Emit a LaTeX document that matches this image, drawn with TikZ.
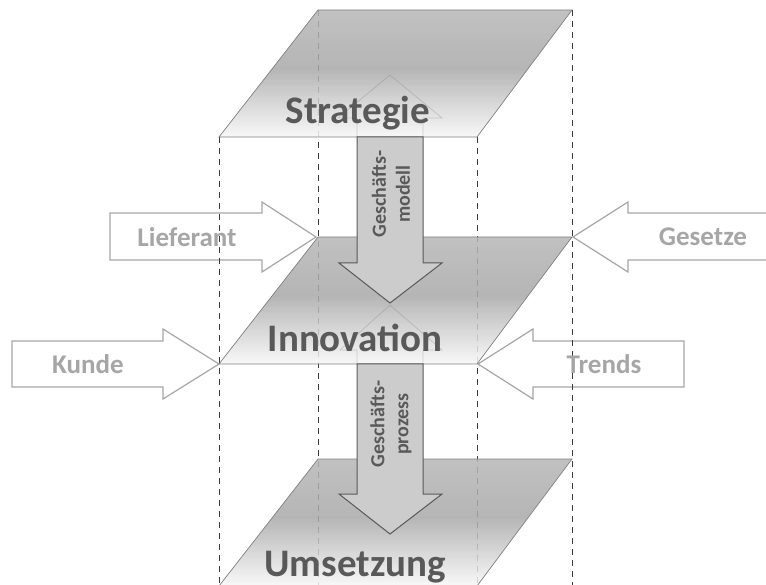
\documentclass[tikz,border=0pt]{standalone}
\usepackage{fontspec}
\setmainfont{Carlito}
\definecolor{pA}{HTML}{F7F7F7}
\definecolor{pB}{HTML}{D2D2D2}
\definecolor{pC}{HTML}{A8A8A8}
\definecolor{pD}{HTML}{B6B6B6}
\definecolor{titlegray}{HTML}{595959}
\definecolor{sidegray}{HTML}{A6A6A6}
\definecolor{dashgray}{HTML}{3A3A3A}
\definecolor{arrowfill}{HTML}{CCCCCC}
\definecolor{edgegray}{HTML}{808080}
\pgfdeclareverticalshading{planeshade}{100bp}{color(0bp)=(pA); color(25bp)=(pA); color(38bp)=(pB); color(52bp)=(pC); color(75bp)=(pD); color(100bp)=(pD)}
\begin{document}
\begin{tikzpicture}[x=1pt,y=-1pt,
  plane/.style={shading=planeshade, fill opacity=0.85, draw=edgegray, line width=0.7pt},
  guide/.style={draw=dashgray, line width=1pt, dash pattern=on 6pt off 5pt},
  sidearrow/.style={draw=sidegray, fill=white, line width=1.2pt, line join=miter},
  downarrow/.style={draw=titlegray, fill=arrowfill, line width=1pt, line join=miter},
  ghost/.style={draw=gray, opacity=0.35, line width=0.7pt},
  title/.style={font=\fontsize{39}{46}\selectfont\bfseries, text=titlegray, inner sep=0pt, anchor=base},
  sidelabel/.style={font=\fontsize{27}{32}\selectfont\bfseries, text=sidegray, inner sep=0pt},
  arrowlabel/.style={font=\fontsize{20}{24}\selectfont\bfseries, text=titlegray, align=center, rotate=90, inner sep=0pt}
]
\useasboundingbox (0,0) rectangle (766,585);
\clip (0,0) rectangle (766,585);

% side arrows
\draw[sidearrow] (110,213) -- (262,213) -- (262,202) -- (316,237) -- (262,272) -- (262,260) -- (110,260) -- cycle;
\draw[sidearrow] (12,341) -- (163,341) -- (163,329) -- (219,364) -- (163,399) -- (163,387) -- (12,387) -- cycle;
\draw[sidearrow] (775,213) -- (628,213) -- (628,202) -- (573,237) -- (628,272) -- (628,260) -- (775,260) -- cycle;
\draw[sidearrow] (684,341) -- (533,341) -- (533,329) -- (478,364) -- (533,399) -- (533,387) -- (684,387) -- cycle;

% vertical dashed guides
\coordinate (g1t) at (318,10);  \coordinate (g1b) at (318,590);
\coordinate (g2t) at (572,10);  \coordinate (g2b) at (572,590);
\coordinate (g3t) at (219,137); \coordinate (g3b) at (219,590);
\coordinate (g4t) at (477,137); \coordinate (g4b) at (477,590);
\draw[guide] (g1t) -- (g1b);
\draw[guide] (g2t) -- (g2b);
\draw[guide] (g3t) -- (g3b);
\draw[guide] (g4t) -- (g4b);

% planes
\path[plane] (318,10) -- (572,10) -- (477,137) -- (219,137) -- cycle;
\path[plane] (318,237) -- (572,237) -- (477,364) -- (219,364) -- cycle;
\path[plane] (318,459) -- (572,459) -- (477,586) -- (219,586) -- cycle;

% faint reflections
\draw[ghost] (357,137) -- (357,118) -- (338,118) -- (390,75) -- (442,118) -- (423,118) -- (423,137);
\draw[ghost] (357,364) -- (357,350) -- (340,350) -- (390,305) -- (442,350) -- (423,350) -- (423,364);

% down arrows
\draw[downarrow] (357,137) -- (423,137) -- (423,263) -- (442,263) -- (390,303) -- (339,263) -- (357,263) -- cycle;
\draw[downarrow] (357,364) -- (423,364) -- (423,494) -- (442,494) -- (390,534) -- (339,494) -- (357,494) -- cycle;

% labels
\node[title] (strat) at (358,124) {Strategie};
\node[title] (inno) at (355,352) {Innovation};
\node[title] (ums) at (355,576) {Umsetzung};
\node[arrowlabel] (gm) at (391,194) {Geschäfts-\\modell};
\node[arrowlabel] (gp) at (391,424) {Geschäfts-\\prozess};
\node[sidelabel] (lief) at (187,237) {Lieferant};
\node[sidelabel] (kunde) at (88,364) {Kunde};
\node[sidelabel] (ges) at (703,237) {Gesetze};
\node[sidelabel] (trends) at (604,364) {Trends};
\end{tikzpicture}
\end{document}
